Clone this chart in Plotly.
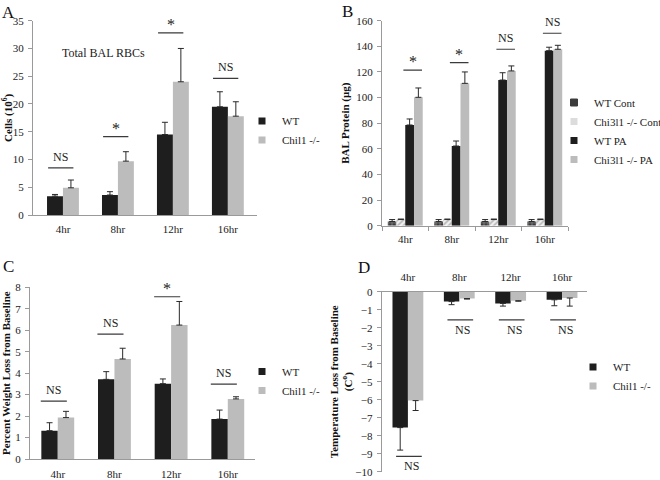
import plotly.graph_objects as go

FONT = "Times New Roman, Liberation Serif, serif"

hours = ["4hr", "8hr", "12hr", "16hr"]

# Panel A: Total BAL RBCs (10^6 cells)
a_wt = [3.4, 3.6, 14.5, 19.5]
a_wt_err = [0.3, 0.6, 2.2, 2.7]
a_ko = [4.9, 9.7, 24.0, 17.8]
a_ko_err = [1.4, 1.7, 6.0, 2.6]
a_sig = ["NS", "*", "*", "NS"]
a_sig_y = [8.5, 14.1, 32.8, 24.6]

# Panel B: BAL protein (ug)
b_wt_cont = [3.3, 3.3, 3.3, 3.3]
b_wt_cont_err = [1.5, 1.5, 1.5, 1.5]
b_ko_cont = [4.8, 4.8, 4.8, 4.8]
b_ko_cont_err = [0.4, 0.4, 0.4, 0.4]
b_wt_pa = [78.6, 62.2, 113.7, 136.6]
b_wt_pa_err = [4.7, 3.9, 5.7, 2.7]
b_ko_pa = [100.2, 111.1, 120.8, 137.7]
b_ko_pa_err = [7.3, 8.9, 3.9, 3.1]
b_sig = ["*", "*", "NS", "NS"]
b_sig_y = [121.5, 127.3, 137.7, 150.2]

# Panel C: percent weight loss
c_wt = [1.32, 3.71, 3.51, 1.86]
c_wt_err = [0.37, 0.36, 0.22, 0.42]
c_ko = [1.93, 4.66, 6.24, 2.80]
c_ko_err = [0.29, 0.50, 1.10, 0.10]
c_sig = ["NS", "NS", "*", "NS"]
c_sig_y = [2.7, 5.82, 7.56, 3.49]

# Panel D: temperature loss
d_wt = [-7.55, -0.55, -0.65, -0.45]
d_wt_err = [1.25, 0.17, 0.15, 0.33]
d_ko = [-6.05, -0.38, -0.50, -0.35]
d_ko_err = [0.55, 0.03, 0.03, 0.45]
d_sig = ["NS", "NS", "NS", "NS"]
d_sig_y = [-9.15, -1.57, -1.57, -1.57]

W, H = 660, 480
BLACK = "#1e1e1e"
GRAY = "#bcbcbc"
ERR = "#2a2a2a"
AXC = "#9a9a9a"


def px(x):
    return x / W


def py(y):
    return 1 - y / H


fig = go.Figure()


def bar(x, y, err, color, xa, ya, off, wid, down=False, pattern=None):
    eb = dict(type="data", symmetric=False, color=ERR, thickness=1, width=3)
    if down:
        eb["array"] = [0] * len(err)
        eb["arrayminus"] = err
    else:
        eb["array"] = err
        eb["arrayminus"] = [0] * len(err)
    m = dict(color=color, line=dict(width=0))
    if pattern:
        m["pattern"] = pattern
    fig.add_trace(go.Bar(x=x, y=y, error_y=eb, marker=m, xaxis=xa, yaxis=ya,
                         offset=off, width=wid, showlegend=False))


def legend_entry(name, color, legend, xa, ya, symbol="square", lc=None):
    fig.add_trace(go.Scatter(x=[None], y=[None], mode="markers", name=name,
                             marker=dict(symbol=symbol, size=7, color=color,
                                         line=dict(width=1 if lc else 0, color=lc or color)),
                             legend=legend, showlegend=True, xaxis=xa, yaxis=ya))


# Panel A
bar(hours, a_wt, a_wt_err, BLACK, "x", "y", -0.29, 0.29)
bar(hours, a_ko, a_ko_err, GRAY, "x", "y", 0.0, 0.29)
# Panel B
bar(hours, b_wt_cont, b_wt_cont_err, "#3c3c3c", "x2", "y2", -0.376, 0.188,
    pattern=dict(shape="+", fgcolor="#d0d0d0", size=4, solidity=0.35))
bar(hours, b_ko_cont, b_ko_cont_err, "#f0f0f0", "x2", "y2", -0.188, 0.188,
    pattern=dict(shape="/", fgcolor="#7a7a7a", bgcolor="#f0f0f0", size=4, solidity=0.4))
bar(hours, b_wt_pa, b_wt_pa_err, BLACK, "x2", "y2", 0.0, 0.188)
bar(hours, b_ko_pa, b_ko_pa_err, GRAY, "x2", "y2", 0.188, 0.188)
# Panel C
bar(hours, c_wt, c_wt_err, BLACK, "x3", "y3", -0.29, 0.29)
bar(hours, c_ko, c_ko_err, GRAY, "x3", "y3", 0.0, 0.29)
# Panel D
bar(hours, d_wt, d_wt_err, BLACK, "x4", "y4", -0.30, 0.30, down=True)
bar(hours, d_ko, d_ko_err, GRAY, "x4", "y4", 0.0, 0.30, down=True)

# Legends
legend_entry("WT", BLACK, "legend", "x", "y")
legend_entry("Chil1 -/-", GRAY, "legend", "x", "y")
legend_entry("WT Cont", "#3c3c3c", "legend2", "x2", "y2", symbol="square-cross", lc="#3c3c3c")
legend_entry("Chi3l1 -/- Cont", "#dcdcdc", "legend2", "x2", "y2")
legend_entry("WT PA", BLACK, "legend2", "x2", "y2")
legend_entry("Chi3l1 -/- PA", GRAY, "legend2", "x2", "y2")
legend_entry("WT", BLACK, "legend3", "x3", "y3")
legend_entry("Chil1 -/-", GRAY, "legend3", "x3", "y3")
legend_entry("WT", BLACK, "legend4", "x4", "y4")
legend_entry("Chil1 -/-", GRAY, "legend4", "x4", "y4")

shapes = []
annotations = []


def sig(labels, ys, xr, yr, center, half, below=False, shift=2):
    for i, (lab, yv) in enumerate(zip(labels, ys)):
        shapes.append(dict(type="line", xref=xr, yref=yr, x0=i + center - half, x1=i + center + half,
                           y0=yv, y1=yv, line=dict(color="#3a3a3a", width=1.2)))
        star = lab == "*"
        annotations.append(dict(xref=xr, yref=yr, x=i + center + (0.05 if below else 0), y=yv,
                                text=lab, showarrow=False, xanchor="center",
                                yanchor="top" if below else "bottom",
                                yshift=-shift if below else (-2 if star else shift),
                                font=dict(family=FONT, size=16 if star else 12, color="#222")))


sig(a_sig, a_sig_y, "x", "y", -0.04, 0.23)
sig(b_sig, b_sig_y, "x2", "y2", 0.16, 0.2)
sig(c_sig, c_sig_y, "x3", "y3", -0.07, 0.23)
sig(d_sig, d_sig_y, "x4", "y4", 0.02, 0.25, below=True, shift=1)

# panel letters and inner label
for letter, xx, yy in [("A", 8, 12), ("B", 347, 11), ("C", 8, 266), ("D", 364, 267)]:
    annotations.append(dict(xref="paper", yref="paper", x=px(xx), y=py(yy), text=letter,
                            xanchor="center", yanchor="middle", showarrow=False,
                            font=dict(family=FONT, size=17, color="#111")))
annotations.append(dict(xref="paper", yref="paper", x=px(103), y=py(53), text="Total BAL RBCs",
                        xanchor="center", yanchor="middle", showarrow=False,
                        font=dict(family=FONT, size=12, color="#222")))

tickfont = dict(family=FONT, size=11, color="#222")
titlefont = dict(family=FONT, size=11, color="#111", weight="bold")


def xax(dom, rng, side="bottom", ticks="", tickson=None, standoff=6, anchor="y"):
    d = dict(domain=[px(dom[0]), px(dom[1])], range=rng, type="category", anchor=anchor,
             showline=True, linecolor=AXC, linewidth=1, ticks=ticks, ticklen=4, tickcolor=AXC,
             tickfont=tickfont, showgrid=False, zeroline=False, side=side, automargin=False,
             ticklabelstandoff=standoff, fixedrange=True)
    if tickson:
        d["tickson"] = tickson
    return d


def yax(dom, rng, dtick, title, anchor, standoff):
    return dict(domain=[py(dom[1]), py(dom[0])], range=rng, dtick=dtick, anchor=anchor,
                showline=True, linecolor=AXC, linewidth=1, ticks="outside", ticklen=4,
                tickcolor=AXC, tickfont=tickfont, showgrid=False, zeroline=False,
                ticklabelstandoff=2, automargin=False,
                title=dict(text=title, font=titlefont, standoff=standoff), fixedrange=True)


LEG = dict(xanchor="left", yanchor="top", bgcolor="rgba(0,0,0,0)",
           font=dict(family=FONT, size=11, color="#222"), itemwidth=30)

fig.update_layout(
    width=W, height=H,
    margin=dict(l=0, r=0, t=0, b=0, autoexpand=False),
    paper_bgcolor="white", plot_bgcolor="white",
    barmode="overlay",
    shapes=shapes, annotations=annotations,
    font=dict(family=FONT, color="#222"),
    xaxis=xax((33, 257), [-0.545, 3.53], standoff=4, anchor="y"),
    yaxis=yax((20.7, 215), [0, 35], 5, "Cells (10<sup>6</sup>)", "x", 0),
    xaxis2=xax((382, 568), [-0.5, 3.5], ticks="outside", tickson="boundaries", standoff=3, anchor="y2"),
    yaxis2=yax((20.7, 225.7), [0, 160], 20, "BAL Protein (μg)", "x2", 4),
    xaxis3=xax((30, 255), [-0.49, 3.48], standoff=5, anchor="y3"),
    yaxis3=yax((287.3, 459), [0, 8], 1, "Percent Weight Loss from Baseline", "x3", 2),
    xaxis4=xax((381.7, 586.7), [-0.51, 3.48], side="top", standoff=5, anchor="y4"),
    yaxis4=yax((291.7, 471.7), [-10, 0], 1, "Temperature Loss from Baseline<br>(C<sup>o</sup>)", "x4", 0),
    legend=dict(x=px(242), y=py(106.5), **LEG),
    legend2=dict(x=px(554), y=py(88), **LEG),
    legend3=dict(x=px(242), y=py(357), **LEG),
    legend4=dict(x=px(573), y=py(352.5), **LEG),
)

fig.write_html("out.html", config={"displayModeBar": False},
               post_script="document.body.style.margin='0';document.body.style.overflow='hidden';")
